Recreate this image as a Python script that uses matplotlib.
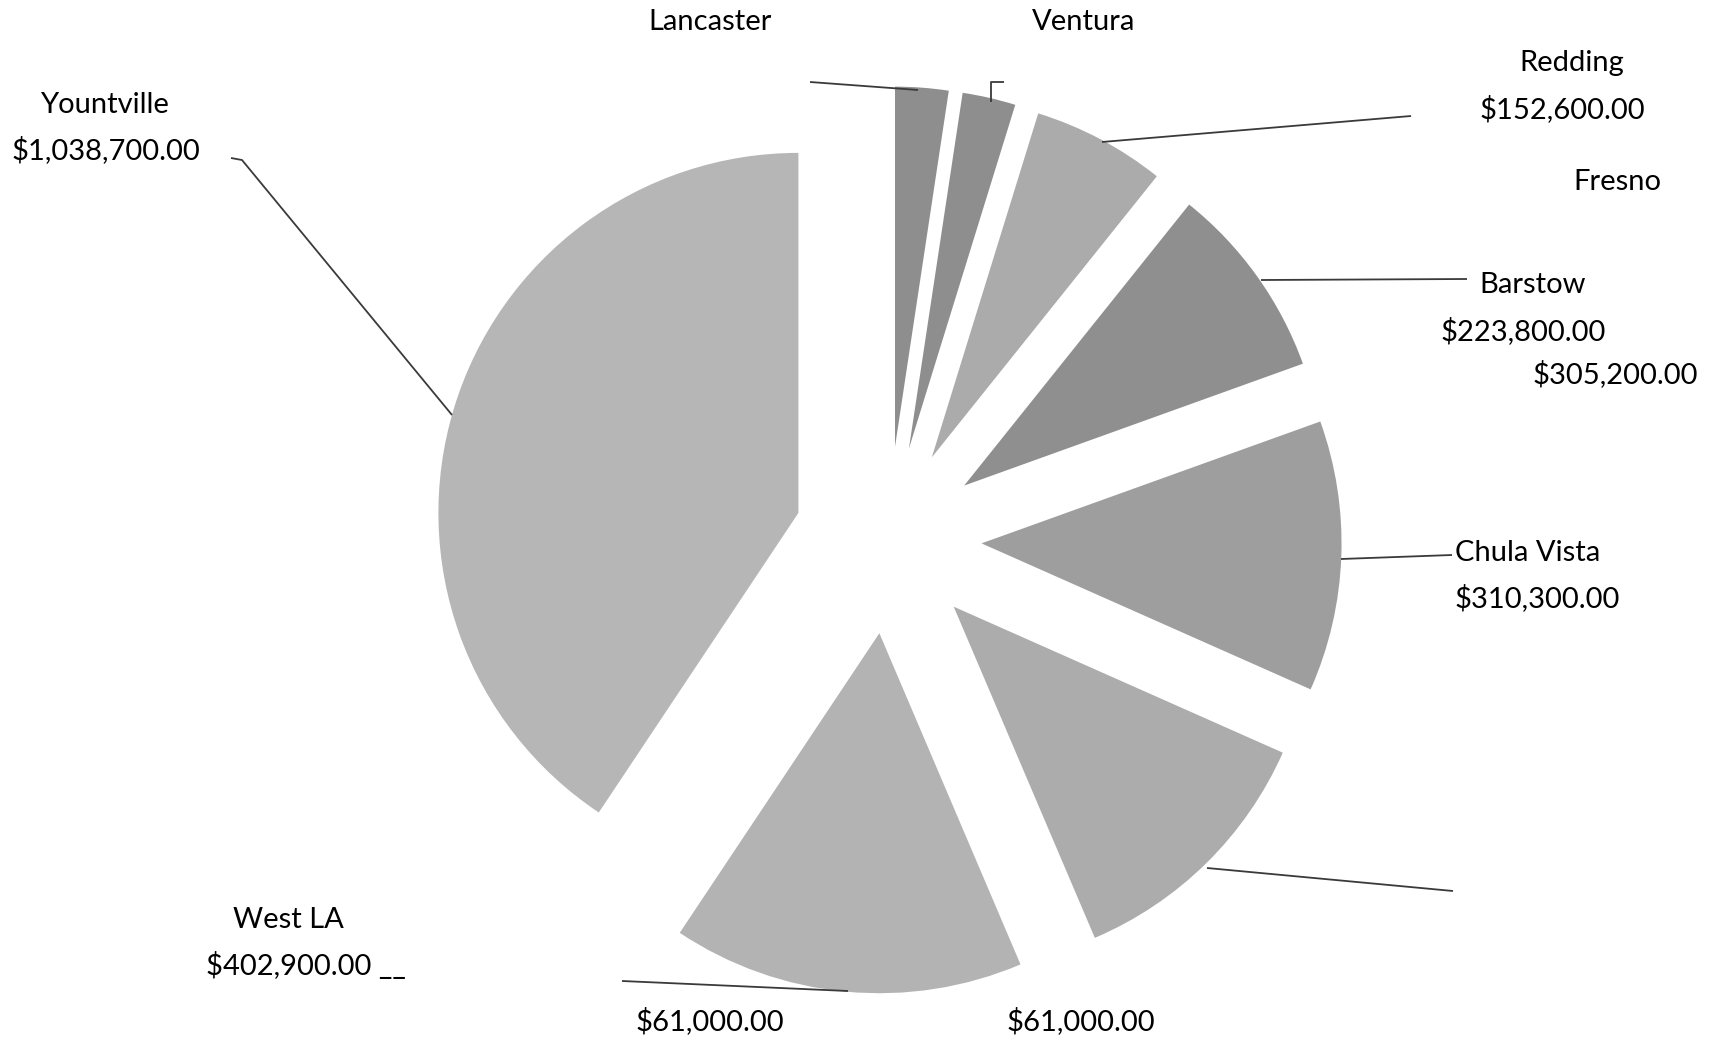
"""Exploded grey pie of sales by city, redrawn from a scanned printout.

The axes span the whole figure in pixel units (y pointing down) so the
scattered labels and leader lines of the scan can be placed where they sit.
"""

import matplotlib

matplotlib.use("Agg")
import matplotlib.pyplot as plt  # noqa: E402

W, H = 1712, 1041

# slices, clockwise from 12 o'clock
CITIES = ["Lancaster", "Ventura", "Redding", "Barstow",
          "Chula Vista", "Fresno", "West LA", "Yountville"]
SALES = [61000, 61000, 152600, 223800, 310300, 305200, 402900, 1038700]
GREYS = ["#8e8e8e", "#8e8e8e", "#ababab", "#8f8f8f",
         "#9e9e9e", "#acacac", "#b3b3b3", "#b6b6b6"]

# text blocks as they sit on the printout: (text, x, y, ha)
LABELS = [
    ("Lancaster", 710, 22, "center"),
    ("Ventura", 1084, 22, "center"),
    ("Redding", 1572, 63, "center"),
    ("$152,600.00", 1562, 109, "center"),
    ("Fresno", 1617, 182, "center"),
    ("Barstow", 1533, 285, "center"),
    ("$223,800.00", 1523, 331, "center"),
    ("$305,200.00", 1615, 374, "center"),
    ("Chula Vista", 1455, 553, "left"),
    ("$310,300.00", 1455, 598, "left"),
    ("Yountville", 104, 105, "center"),
    ("$1,038,700.00", 106, 150, "center"),
    ("West LA", 288, 920, "center"),
    ("$402,900.00 __", 306, 966, "center"),
    ("$61,000.00", 710, 1021, "center"),
    ("$61,000.00", 1081, 1021, "center"),
]

# leader lines (pixel polylines)
LEADERS = [
    [(231, 158), (242, 160), (452, 415)],
    [(810, 82), (918, 90)],
    [(1004, 82), (991, 82), (991, 102)],
    [(1102, 142), (1411, 116)],
    [(1261, 280), (1467, 279)],
    [(1341, 559), (1452, 555)],
    [(1207, 868), (1453, 891)],
    [(622, 981), (848, 991)],
]

RADIUS = 360
fig = plt.figure(figsize=(W / 100, H / 100), dpi=100)
ax = fig.add_axes([0, 0, 1, 1])

# y axis is inverted below, so start at -90 and run "counterclockwise"
# to get a visually clockwise pie starting at the top.
# explode is in data units here, not a fraction of the radius
ax.pie(SALES, colors=GREYS, startangle=-90, counterclock=True,
       center=(888, 540), radius=RADIUS,
       explode=[0.26 * RADIUS] * len(SALES),
       wedgeprops=dict(linewidth=0))

for pts in LEADERS:
    xs, ys = zip(*pts)
    ax.plot(xs, ys, color="#3a3a3a", lw=1.3, solid_capstyle="butt")

for text, x, y, ha in LABELS:
    ax.text(x, y, text, ha=ha, va="center", fontsize=21,
            family=["Lato", "DejaVu Sans"], color="black")

ax.set_xlim(0, W)
ax.set_ylim(H, 0)
ax.set_aspect("equal")
ax.axis("off")

fig.savefig("out.png", dpi=100, facecolor="white")
plt.close(fig)
